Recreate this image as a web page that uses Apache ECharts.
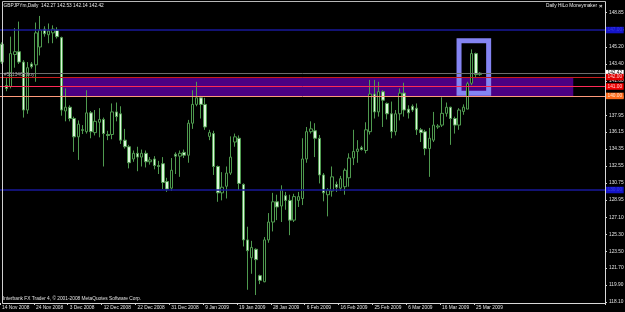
<!DOCTYPE html>
<html>
<head>
<meta charset="utf-8">
<script src="https://cdn.jsdelivr.net/npm/echarts@6/dist/echarts.min.js"></script>
<style>
html,body{margin:0;padding:0;background:#000;}
#c{width:625px;height:312px;}
</style>
</head>
<body>
<div id="c"></div>
<script>
const dates = ["14 Nov 2008","16 Nov 2008","17 Nov 2008","18 Nov 2008","19 Nov 2008","20 Nov 2008","21 Nov 2008","23 Nov 2008","24 Nov 2008","25 Nov 2008","26 Nov 2008","27 Nov 2008","28 Nov 2008","30 Nov 2008",
"1 Dec 2008","2 Dec 2008","3 Dec 2008","4 Dec 2008","5 Dec 2008","7 Dec 2008","8 Dec 2008","9 Dec 2008","10 Dec 2008","11 Dec 2008","12 Dec 2008","14 Dec 2008","15 Dec 2008","16 Dec 2008","17 Dec 2008","18 Dec 2008","19 Dec 2008","21 Dec 2008","22 Dec 2008","23 Dec 2008","24 Dec 2008","25 Dec 2008","26 Dec 2008","28 Dec 2008","29 Dec 2008","30 Dec 2008","31 Dec 2008",
"1 Jan 2009","2 Jan 2009","4 Jan 2009","5 Jan 2009","6 Jan 2009","7 Jan 2009","8 Jan 2009","9 Jan 2009","11 Jan 2009","12 Jan 2009","13 Jan 2009","14 Jan 2009","15 Jan 2009","16 Jan 2009","18 Jan 2009","19 Jan 2009","20 Jan 2009","21 Jan 2009","22 Jan 2009","23 Jan 2009","25 Jan 2009","26 Jan 2009","27 Jan 2009","28 Jan 2009","29 Jan 2009","30 Jan 2009",
"1 Feb 2009","2 Feb 2009","3 Feb 2009","4 Feb 2009","5 Feb 2009","6 Feb 2009","8 Feb 2009","9 Feb 2009","10 Feb 2009","11 Feb 2009","12 Feb 2009","13 Feb 2009","15 Feb 2009","16 Feb 2009","17 Feb 2009","18 Feb 2009","19 Feb 2009","20 Feb 2009","22 Feb 2009","23 Feb 2009","24 Feb 2009","25 Feb 2009","26 Feb 2009","27 Feb 2009",
"1 Mar 2009","2 Mar 2009","3 Mar 2009","4 Mar 2009","5 Mar 2009","6 Mar 2009","8 Mar 2009","9 Mar 2009","10 Mar 2009","11 Mar 2009","12 Mar 2009","13 Mar 2009","15 Mar 2009","16 Mar 2009","17 Mar 2009","18 Mar 2009","19 Mar 2009","20 Mar 2009","22 Mar 2009","23 Mar 2009","24 Mar 2009","25 Mar 2009","26 Mar 2009"];

const opens = [145.5,141.1,141.0,144.4,144.7,143.6,138.5,143.4,143.3,145.2,
147.1,146.5,146.7,147.0,146.2,138.4,138.8,137.6,135.65,136.4,
136.2,138.2,136.1,137.2,137.5,135.9,135.9,138.3,138.1,135.3,
134.6,133.3,133.9,133.5,133.9,133.0,133.3,132.6,132.8,130.9,
130.2,133.8,133.6,134.0,133.7,137.1,139.1,139.8,139.1,135.7,
136.0,132.5,129.7,130.4,131.8,135.1,135.5,130.6,124.7,122.8,
123.7,120.9,120.25,124.7,126.6,128.75,128.3,129.4,128.9,126.8,
128.9,129.1,133.3,136.2,136.3,135.5,131.6,129.5,129.9,130.6,
130.2,130.35,131.3,133.4,134.1,134.5,134.2,136.2,140.2,138.3,
140.45,139.2,138.1,136.2,138.1,140.3,138.6,138.9,138.7,136.4,
136.2,134.4,135.3,136.7,136.9,138.15,138.8,137.6,136.9,138.35,
138.6,141.35,144.5,142.27];

const highs = [145.7,141.9,146.3,147.2,147.9,143.8,143.6,143.6,147.8,148.5,
147.4,147.7,147.5,147.3,146.3,140.8,139.0,137.8,137.4,136.9,
140.6,138.4,138.5,138.7,137.7,136.3,139.2,139.3,138.9,136.5,
134.8,134.2,134.6,134.3,134.2,133.5,133.6,133.1,133.5,131.3,
133.4,134.0,134.2,134.3,137.45,140.6,141.5,140.0,139.8,136.4,
136.3,132.6,131.9,132.5,135.7,136.0,135.8,130.7,126.1,124.6,
123.8,121.0,125.0,127.55,129.7,129.5,130.5,129.8,129.5,129.6,
129.8,135.5,136.7,137.3,137.1,135.85,131.8,130.2,132.5,130.9,
131.5,132.3,133.9,136.4,135.3,134.7,137.2,141.7,141.7,141.5,
140.6,139.3,139.4,138.5,140.8,141.4,139.0,139.1,139.2,136.6,
136.4,136.6,138.3,137.0,139.85,139.3,138.85,137.8,138.7,139.1,
141.5,144.95,144.6,142.53];

const lows = [143.4,140.5,140.8,143.0,143.4,137.7,138.1,142.9,141.5,144.3,
146.3,145.6,145.6,146.1,137.9,137.3,137.3,134.05,133.2,135.95,
136.0,135.5,135.8,135.6,132.5,135.3,135.4,137.3,134.9,134.4,
132.3,133.0,132.0,132.5,132.4,132.7,132.2,131.7,130.1,129.8,
129.9,131.7,131.4,133.4,132.9,136.5,138.9,137.6,136.4,135.3,
131.6,128.75,128.9,129.1,131.6,134.6,130.0,124.0,119.4,121.1,
118.84,120.0,120.2,124.4,125.6,126.8,126.6,127.9,125.2,126.6,
128.2,128.4,132.9,136.0,133.5,130.7,128.8,127.2,129.3,129.8,
129.9,129.5,130.35,132.65,132.9,134.2,133.9,135.9,137.6,137.8,
136.7,137.5,135.5,135.8,137.4,137.8,137.6,138.3,135.85,135.1,
133.7,131.4,135.1,136.5,136.7,137.8,134.8,136.0,136.4,138.0,
138.6,141.15,141.9,142.14];

const closes = [143.6,140.8,144.5,144.7,143.6,138.5,143.0,143.1,146.7,147.0,
146.6,146.9,147.1,146.3,138.5,138.8,137.6,135.65,137.0,136.35,
138.2,136.2,137.3,137.5,136.0,135.8,138.3,137.8,135.3,134.6,
132.9,133.9,133.5,133.9,133.0,133.2,132.6,132.5,130.8,130.1,
132.1,133.6,133.9,133.7,137.1,139.1,139.8,139.1,136.7,136.1,
132.5,129.7,130.3,131.8,133.5,135.65,130.7,124.7,123.55,123.9,
122.6,120.4,124.7,126.6,128.75,128.2,130.0,128.9,126.8,129.3,
129.3,133.3,136.2,136.5,135.5,131.6,129.7,130.0,131.4,130.3,
131.2,132.1,133.4,134.1,134.35,134.3,136.4,140.2,138.3,140.45,
139.55,138.1,136.2,138.1,140.3,138.5,138.2,138.5,136.4,136.1,
134.4,135.5,136.9,136.8,138.15,138.8,137.6,136.9,138.5,138.8,
141.3,144.5,142.27,142.42];

const yTicks = [118.10,119.90,121.70,123.50,125.30,127.10,128.95,130.75,132.55,134.35,136.15,137.95,139.80,141.60,143.40,145.20,147.05,148.85];

const blueLevels = [147.00, 130.00];
const orderLevel = 142.42;
const redLevel = 142.00;
const pinkLevel = 141.00;
const orangeLevel = 140.00;

const band = {startIdx: 14, endIdx: 135, top: 142.00, bottom: 140.00};
const hiloBox = {startIdx: 108.2, endIdx: 115.3, top: 145.86, bottom: 140.29};

const yMin = 117.994, yMax = 150.194;
const emptySlots = 29;
const cats = dates.concat(new Array(emptySlots).fill(''));
const ohlc = opens.map((o, i) => [o, closes[i], lows[i], highs[i]]);

const FONT = 'Liberation Sans';
const FS = 4.8;

function lvlLabel(bg, fg) {
  return {show: true, position: 'end', distance: 1, formatter: p => Number(p.value).toFixed(2),
    backgroundColor: bg, color: fg, fontSize: FS, fontFamily: FONT, padding: [1, 1.5, 0.5, 1.5], lineHeight: 5};
}

const chart = echarts.init(document.getElementById('c'), null, {renderer: 'canvas'});
const showIdx = (i) => i % 8 === 0 && i < dates.length;

const option = {
  backgroundColor: '#000000',
  animation: false,
  grid: {left: 0, right: 20, top: 0, bottom: 9, containLabel: false, outerBoundsMode: 'none'},
  xAxis: {
    type: 'category', data: cats, boundaryGap: true,
    axisLine: {show: false},
    axisTick: {show: true, interval: showIdx, length: 2, lineStyle: {color: '#d0d0d0', width: 1}},
    axisLabel: {interval: showIdx, align: 'left', margin: 2, color: '#e0e0e0', fontSize: FS, fontFamily: FONT},
    splitLine: {show: false}
  },
  yAxis: {
    type: 'value', position: 'right', min: yMin, max: yMax, scale: true,
    axisLine: {show: false},
    axisTick: {show: true, customValues: yTicks, length: 2, lineStyle: {color: '#d0d0d0'}},
    axisLabel: {customValues: yTicks, formatter: v => Number(v).toFixed(2), margin: 4, color: '#e0e0e0', fontSize: FS, fontFamily: FONT},
    splitLine: {show: false}
  },
  series: [{
    type: 'candlestick',
    data: ohlc,
    barWidth: 3,
    clip: false,
    itemStyle: {color: '#000000', color0: '#dcf7dc', borderColor: '#4f9a4f', borderColor0: '#4f9a4f', borderWidth: 1},
    markArea: {
      silent: true,
      data: [
        [{coord: [band.startIdx, band.top], itemStyle: {color: '#4b0082'}}, {coord: [band.endIdx, band.bottom]}],
        [{coord: [hiloBox.startIdx, hiloBox.top], itemStyle: {color: 'rgba(0,0,0,0)', borderColor: '#8484f2', borderWidth: 5}}, {coord: [hiloBox.endIdx, hiloBox.bottom]}]
      ]
    },
    markLine: {
      silent: true, symbol: ['none', 'none'],
      data: [
        {yAxis: blueLevels[0], lineStyle: {color: '#18189a', width: 1.5, type: 'solid'}, label: lvlLabel('#1414c8', '#3a3ae6')},
        {yAxis: blueLevels[1], lineStyle: {color: '#18189a', width: 1.5, type: 'solid'}, label: lvlLabel('#1414c8', '#3a3ae6')},
        {yAxis: orderLevel, lineStyle: {color: '#6e6e6e', width: 1, type: 'solid'}, label: lvlLabel('#ffffff', '#000000')},
        {yAxis: redLevel, lineStyle: {color: '#c81e1e', width: 1, type: 'solid'}, label: lvlLabel('#e00000', '#ffc8c8')},
        {yAxis: pinkLevel, lineStyle: {color: '#ff2a55', width: 1, type: 'solid'}, label: lvlLabel('#f00000', '#ffd0d0')},
        {yAxis: orangeLevel, lineStyle: {color: '#ff9a7a', width: 1, type: 'solid'}, label: lvlLabel('#ff6a1a', '#ffe6cc')}
      ]
    }
  }],
  graphic: [
    {type: 'line', z: 100, shape: {x1: 2.5, y1: 1.5, x2: 2.5, y2: 303.5}, style: {stroke: '#d0d0d0', lineWidth: 1}},
    {type: 'line', z: 100, shape: {x1: 2.5, y1: 1.5, x2: 605.5, y2: 1.5}, style: {stroke: '#b8b8b8', lineWidth: 1}},
    {type: 'line', z: 100, shape: {x1: 605.5, y1: 1.5, x2: 605.5, y2: 303.5}, style: {stroke: '#d8d8d8', lineWidth: 1}},
    {type: 'line', z: 100, shape: {x1: 2.5, y1: 303.5, x2: 605.5, y2: 303.5}, style: {stroke: '#d8d8d8', lineWidth: 1}},
    {type: 'text', z: 100, x: 3.5, y: 6, style: {text: 'GBPJPYm,Daily  142.27 142.53 142.14 142.42', fill: '#e8e8e8', font: FS + 'px "' + FONT + '"', align: 'left', verticalAlign: 'middle'}},
    {type: 'text', z: 100, x: 597, y: 6, style: {text: 'Daily HiLo Moneymaker', fill: '#e8e8e8', font: FS + 'px "' + FONT + '"', align: 'right', verticalAlign: 'middle'}},
    {type: 'text', z: 100, x: 599, y: 6, style: {text: '×', fill: '#e8e8e8', font: 'bold 6px "' + FONT + '"', align: 'left', verticalAlign: 'middle'}},
    {type: 'text', z: 100, x: 4, y: 74.5, style: {text: '#5613461 buy', fill: '#a8a8a8', font: FS + 'px "' + FONT + '"', align: 'left', verticalAlign: 'middle'}},
    {type: 'text', z: 100, x: 3, y: 299, style: {text: 'Interbank FX Trader 4, © 2001-2008 MetaQuotes Software Corp.', fill: '#e0e0e0', font: FS + 'px "' + FONT + '"', align: 'left', verticalAlign: 'middle'}}
  ]
};
chart.setOption(option);
</script>
</body>
</html>
